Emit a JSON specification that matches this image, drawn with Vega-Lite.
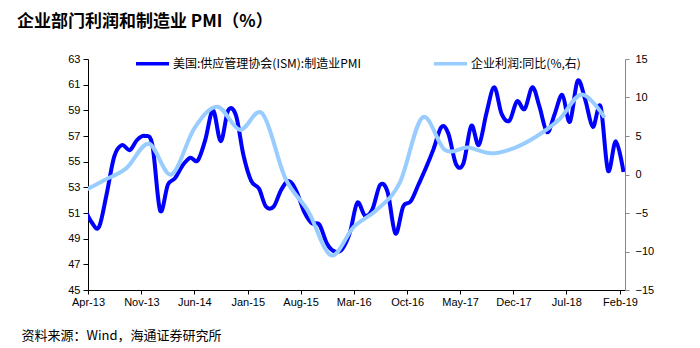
{
  "$schema": "https://vega.github.io/schema/vega-lite/v6.json",
  "autosize": "none",
  "width": 537,
  "height": 231,
  "padding": {"left": 88, "top": 59, "right": 75, "bottom": 58},
  "background": "white",
  "title": {
    "text": "企业部门利润和制造业 PMI（%）",
    "anchor": "start",
    "frame": "group",
    "dx": -71,
    "offset": 14,
    "font": "Noto Sans CJK SC",
    "fontSize": 17,
    "fontWeight": "bold",
    "color": "#000000"
  },
  "config": {
    "view": {"stroke": null},
    "axis": {"grid": false, "labelFont": "Liberation Sans", "labelFontSize": 11, "labelColor": "#000000"}
  },
  "datasets": {
    "pmi": [
      {"date": "2013-03-15", "pmi": 51.5},
      {"date": "2013-04-15", "pmi": 50.3},
      {"date": "2013-05-15", "pmi": 49.9},
      {"date": "2013-06-15", "pmi": 52.5},
      {"date": "2013-07-15", "pmi": 55.4},
      {"date": "2013-08-15", "pmi": 56.3},
      {"date": "2013-09-15", "pmi": 55.9},
      {"date": "2013-10-15", "pmi": 56.7},
      {"date": "2013-11-15", "pmi": 57.0},
      {"date": "2013-12-15", "pmi": 56.3},
      {"date": "2014-01-15", "pmi": 51.2},
      {"date": "2014-02-15", "pmi": 53.2},
      {"date": "2014-03-15", "pmi": 53.7},
      {"date": "2014-04-15", "pmi": 54.7},
      {"date": "2014-05-15", "pmi": 55.3},
      {"date": "2014-06-15", "pmi": 55.1},
      {"date": "2014-07-15", "pmi": 56.7},
      {"date": "2014-08-15", "pmi": 59.0},
      {"date": "2014-09-15", "pmi": 56.6},
      {"date": "2014-10-15", "pmi": 59.0},
      {"date": "2014-11-15", "pmi": 58.6},
      {"date": "2014-12-15", "pmi": 55.5},
      {"date": "2015-01-15", "pmi": 53.5},
      {"date": "2015-02-15", "pmi": 52.9},
      {"date": "2015-03-15", "pmi": 51.5},
      {"date": "2015-04-15", "pmi": 51.5},
      {"date": "2015-05-15", "pmi": 52.8},
      {"date": "2015-06-15", "pmi": 53.5},
      {"date": "2015-07-15", "pmi": 52.7},
      {"date": "2015-08-15", "pmi": 51.1},
      {"date": "2015-09-15", "pmi": 50.2},
      {"date": "2015-10-15", "pmi": 50.1},
      {"date": "2015-11-15", "pmi": 48.6},
      {"date": "2015-12-15", "pmi": 48.0},
      {"date": "2016-01-15", "pmi": 48.2},
      {"date": "2016-02-15", "pmi": 49.5},
      {"date": "2016-03-15", "pmi": 51.8},
      {"date": "2016-04-15", "pmi": 50.8},
      {"date": "2016-05-15", "pmi": 51.3},
      {"date": "2016-06-15", "pmi": 53.2},
      {"date": "2016-07-15", "pmi": 52.6},
      {"date": "2016-08-15", "pmi": 49.4},
      {"date": "2016-09-15", "pmi": 51.5},
      {"date": "2016-10-15", "pmi": 51.9},
      {"date": "2016-11-15", "pmi": 53.2},
      {"date": "2016-12-15", "pmi": 54.5},
      {"date": "2017-01-15", "pmi": 56.0},
      {"date": "2017-02-15", "pmi": 57.7},
      {"date": "2017-03-15", "pmi": 57.2},
      {"date": "2017-04-15", "pmi": 54.8},
      {"date": "2017-05-15", "pmi": 54.9},
      {"date": "2017-06-15", "pmi": 57.8},
      {"date": "2017-07-15", "pmi": 56.3},
      {"date": "2017-08-15", "pmi": 58.8},
      {"date": "2017-09-15", "pmi": 60.8},
      {"date": "2017-10-15", "pmi": 58.7},
      {"date": "2017-11-15", "pmi": 58.2},
      {"date": "2017-12-15", "pmi": 59.7},
      {"date": "2018-01-15", "pmi": 59.1},
      {"date": "2018-02-15", "pmi": 60.8},
      {"date": "2018-03-15", "pmi": 59.3},
      {"date": "2018-04-15", "pmi": 57.3},
      {"date": "2018-05-15", "pmi": 58.7},
      {"date": "2018-06-15", "pmi": 60.2},
      {"date": "2018-07-15", "pmi": 58.1},
      {"date": "2018-08-15", "pmi": 61.3},
      {"date": "2018-09-15", "pmi": 59.8},
      {"date": "2018-10-15", "pmi": 57.7},
      {"date": "2018-11-15", "pmi": 59.3},
      {"date": "2018-12-15", "pmi": 54.3},
      {"date": "2019-01-15", "pmi": 56.6},
      {"date": "2019-02-15", "pmi": 54.2}
    ],
    "profit": [
      {"date": "2013-03-01", "profit": -2.4},
      {"date": "2013-06-01", "profit": -0.8},
      {"date": "2013-09-01", "profit": 0.8},
      {"date": "2013-12-01", "profit": 4.0},
      {"date": "2014-03-01", "profit": 0.0},
      {"date": "2014-06-01", "profit": 6.0},
      {"date": "2014-09-01", "profit": 8.8},
      {"date": "2014-12-01", "profit": 5.8},
      {"date": "2015-03-01", "profit": 7.9},
      {"date": "2015-06-01", "profit": -0.5},
      {"date": "2015-09-01", "profit": -4.8},
      {"date": "2015-12-01", "profit": -10.5},
      {"date": "2016-03-01", "profit": -6.8},
      {"date": "2016-06-01", "profit": -4.6},
      {"date": "2016-09-01", "profit": -1.1},
      {"date": "2016-12-01", "profit": 7.4},
      {"date": "2017-03-01", "profit": 3.2},
      {"date": "2017-06-01", "profit": 3.5},
      {"date": "2017-09-01", "profit": 2.75},
      {"date": "2017-12-01", "profit": 3.4},
      {"date": "2018-03-01", "profit": 4.9},
      {"date": "2018-06-01", "profit": 7.1},
      {"date": "2018-09-01", "profit": 10.4},
      {"date": "2018-12-01", "profit": 7.4}
    ]
  },
  "encoding": {
    "x": {
      "field": "date",
      "type": "temporal",
      "scale": {
        "type": "utc",
        "domain": [
          {"year": 2013, "month": 4, "date": 1, "utc": true},
          {"year": 2019, "month": 2, "date": 21, "utc": true}
        ]
      },
      "axis": {
        "values": [
          {"year": 2013, "month": 4, "date": 1, "utc": true},
          {"year": 2013, "month": 11, "date": 1, "utc": true},
          {"year": 2014, "month": 6, "date": 1, "utc": true},
          {"year": 2015, "month": 1, "date": 1, "utc": true},
          {"year": 2015, "month": 8, "date": 1, "utc": true},
          {"year": 2016, "month": 3, "date": 1, "utc": true},
          {"year": 2016, "month": 10, "date": 1, "utc": true},
          {"year": 2017, "month": 5, "date": 1, "utc": true},
          {"year": 2017, "month": 12, "date": 1, "utc": true},
          {"year": 2018, "month": 7, "date": 1, "utc": true},
          {"year": 2019, "month": 2, "date": 1, "utc": true}
        ],
        "labelExpr": "utcFormat(datum.value, '%b-%y')",
        "labelFlush": false,
        "labelOverlap": false,
        "tickSize": 4,
        "labelPadding": 2,
        "domainColor": "#000000",
        "tickColor": "#000000",
        "title": "资料来源：Wind，海通证券研究所",
        "titleFont": "Noto Sans CJK SC",
        "titleFontSize": 13,
        "titleFontWeight": "normal",
        "titleColor": "#000000",
        "titleAnchor": "start",
        "titleAlign": "left",
        "titleBaseline": "middle",
        "titleX": -67,
        "titleY": 45
      }
    }
  },
  "layer": [
    {
      "data": {"name": "pmi"},
      "mark": {"type": "line", "interpolate": "cardinal", "strokeWidth": 4, "clip": true},
      "encoding": {
        "y": {
          "field": "pmi",
          "type": "quantitative",
          "scale": {"domain": [45, 63], "nice": false, "zero": false},
          "axis": {
            "orient": "left",
            "title": null,
            "values": [45, 47, 49, 51, 53, 55, 57, 59, 61, 63],
            "tickSize": 5,
            "labelPadding": 3,
            "domainColor": "#000000",
            "tickColor": "#000000"
          }
        },
        "color": {
          "datum": "美国:供应管理协会(ISM):制造业PMI",
          "type": "nominal",
          "scale": {
            "domain": ["美国:供应管理协会(ISM):制造业PMI", "企业利润:同比(%,右)"],
            "range": ["#0000FF", "#99CCFF"]
          },
          "legend": {
            "orient": "none",
            "legendX": 46,
            "legendY": -14,
            "direction": "horizontal",
            "title": null,
            "symbolType": "stroke",
            "symbolSize": 1089,
            "symbolStrokeWidth": 3.5,
            "labelFont": "Noto Sans CJK SC",
            "labelFontSize": 12,
            "labelColor": "#000000",
            "labelLimit": 400,
            "labelOffset": 2,
            "columnPadding": 65,
            "padding": 0
          }
        }
      }
    },
    {
      "data": {"name": "profit"},
      "mark": {"type": "line", "interpolate": "cardinal", "strokeWidth": 4, "clip": true},
      "encoding": {
        "y": {
          "field": "profit",
          "type": "quantitative",
          "scale": {"domain": [-15, 15], "nice": false, "zero": false},
          "axis": {
            "orient": "right",
            "title": null,
            "values": [-15, -10, -5, 0, 5, 10, 15],
            "tickSize": 4,
            "labelPadding": 6,
            "domainColor": "#888888",
            "tickColor": "#888888"
          }
        },
        "color": {"datum": "企业利润:同比(%,右)", "type": "nominal"}
      }
    }
  ],
  "resolve": {"scale": {"y": "independent"}}
}
